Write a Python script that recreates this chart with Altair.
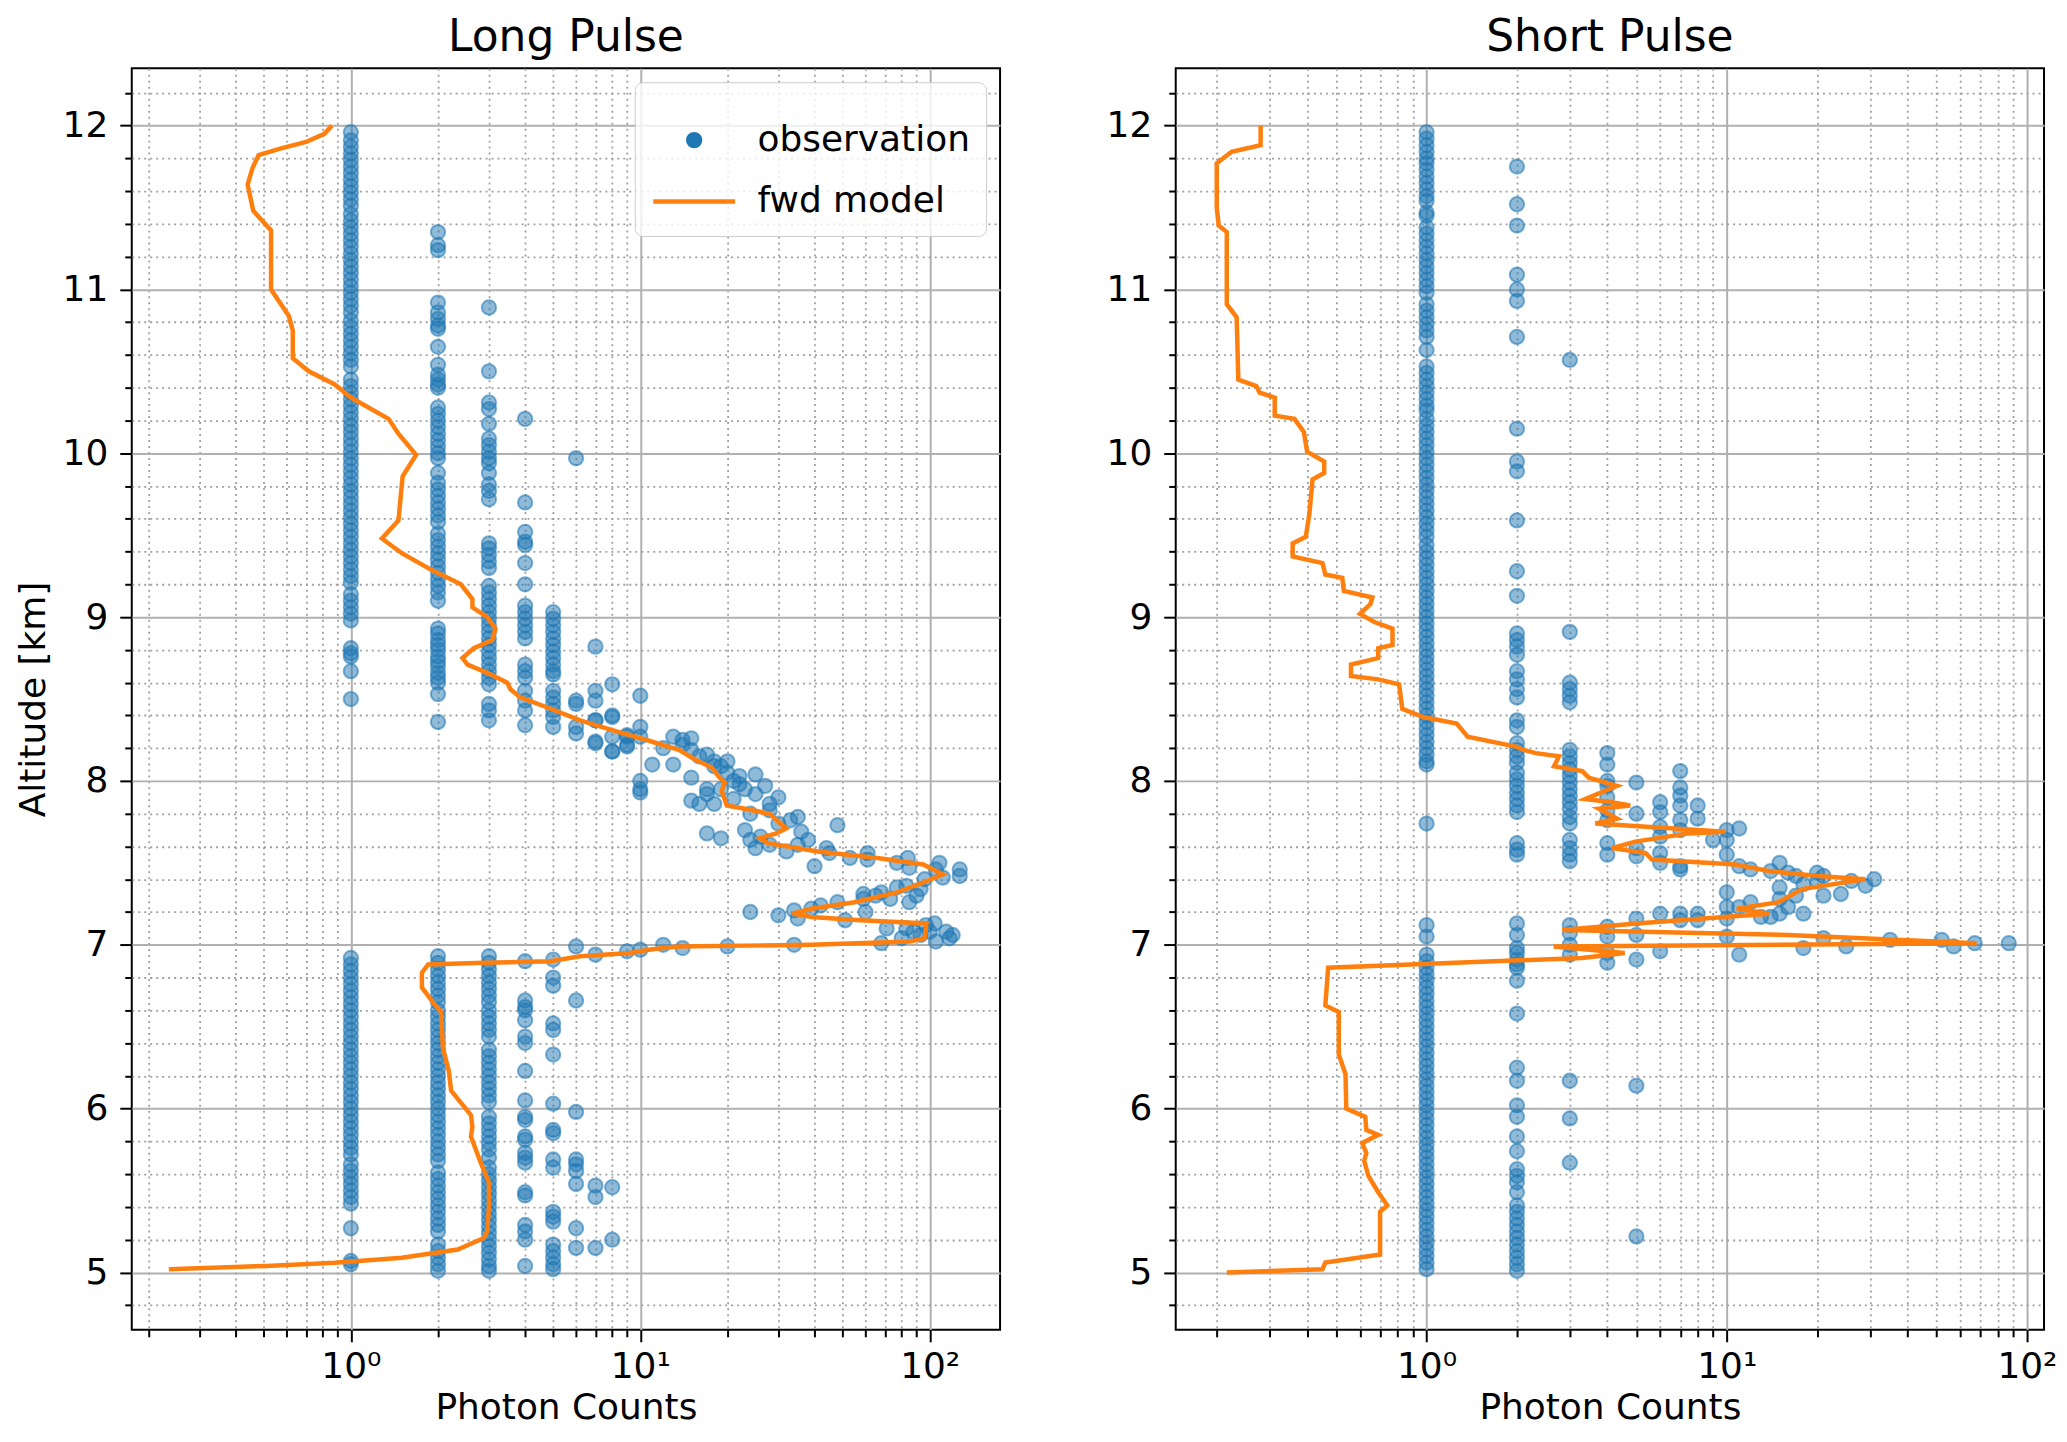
import altair as alt
import numpy as np
import pandas as pd

# ---------------------------------------------------------------------------
# Long pulse: observed photon counts (integer count -> altitudes in km)
# ---------------------------------------------------------------------------
long_n1 = [11.96, 11.91, 11.87, 11.83, 11.79, 11.75, 11.71, 11.67, 11.63, 11.59, 11.55, 11.51,
           11.46, 11.42, 11.38, 11.34, 11.30, 11.26, 11.22, 11.18, 11.14, 11.10, 11.06, 11.02,
           10.98, 10.94, 10.90, 10.86, 10.81, 10.77, 10.73, 10.69, 10.65, 10.61, 10.57, 10.53,
           10.45, 10.41, 10.37, 10.33, 10.29, 10.25, 10.21, 10.17, 10.13, 10.09, 10.05, 10.01,
           9.97, 9.93, 9.89, 9.85, 9.81, 9.77, 9.73, 9.69, 9.65, 9.61, 9.57, 9.53, 9.49, 9.45,
           9.41, 9.37, 9.33, 9.29, 9.25, 9.21, 9.14, 9.10, 9.06, 9.02, 8.98, 8.81, 8.78, 8.76,
           8.67, 8.50,
           6.92, 6.88, 6.84, 6.80, 6.76, 6.72, 6.68, 6.64, 6.60, 6.56, 6.52, 6.48, 6.44, 6.40,
           6.36, 6.32, 6.28, 6.24, 6.20, 6.16, 6.12, 6.08, 6.04, 6.00, 5.96, 5.92, 5.88, 5.84,
           5.80, 5.76, 5.72, 5.66, 5.62, 5.58, 5.54, 5.50, 5.46, 5.42, 5.27, 5.07, 5.05]
long_n2 = [11.35, 11.27, 11.24, 10.92, 10.86, 10.82, 10.78, 10.76, 10.65, 10.54, 10.48, 10.45,
           10.42, 10.40, 10.28, 10.24, 10.20, 10.16, 10.12, 10.08, 10.04, 10.00, 9.97, 9.88,
           9.82, 9.78, 9.74, 9.70, 9.66, 9.62, 9.58, 9.51, 9.47, 9.43, 9.39, 9.35, 9.31, 9.27,
           9.23, 9.19, 9.15, 9.10, 8.93, 8.90, 8.86, 8.83, 8.80, 8.76, 8.73, 8.70, 8.66, 8.63,
           8.60, 8.53, 8.36,
           6.93, 6.89, 6.85, 6.81, 6.77, 6.73, 6.69, 6.65, 6.60, 6.56, 6.52, 6.48, 6.44, 6.40,
           6.36, 6.32, 6.28, 6.24, 6.20, 6.16, 6.12, 6.08, 6.04, 6.00, 5.96, 5.92, 5.88, 5.84,
           5.80, 5.76, 5.72, 5.68, 5.61, 5.57, 5.53, 5.49, 5.45, 5.41, 5.37, 5.33, 5.29, 5.25,
           5.17, 5.13, 5.09, 5.05, 5.01]
long_n3 = [10.89, 10.50, 10.31, 10.27, 10.18, 10.09, 10.05, 10.01, 9.97, 9.94, 9.88, 9.81,
           9.77, 9.72, 9.45, 9.42, 9.38, 9.34, 9.30, 9.19, 9.15, 9.11, 9.07, 9.03, 8.99, 8.95,
           8.91, 8.87, 8.83, 8.79, 8.75, 8.71, 8.67, 8.63, 8.59, 8.47, 8.43, 8.37,
           6.93, 6.89, 6.85, 6.81, 6.77, 6.73, 6.69, 6.65, 6.60, 6.56, 6.52, 6.48, 6.44, 6.36,
           6.32, 6.28, 6.24, 6.20, 6.16, 6.12, 6.08, 6.04, 5.95, 5.91, 5.87, 5.83, 5.79, 5.75,
           5.70, 5.64, 5.60, 5.56, 5.52, 5.48, 5.44, 5.40, 5.36, 5.32, 5.28, 5.24, 5.20, 5.16,
           5.12, 5.08, 5.04, 5.01]
long_n4 = [10.21, 9.70, 9.52, 9.46, 9.44, 9.33, 9.20, 9.07, 9.03, 8.99, 8.95, 8.91, 8.87,
           8.71, 8.67, 8.63, 8.55, 8.49, 8.43, 8.34,
           6.90, 6.66, 6.62, 6.60, 6.54, 6.44, 6.40, 6.23, 6.05, 5.95, 5.93, 5.83, 5.81, 5.73,
           5.70, 5.67, 5.49, 5.47, 5.29, 5.25, 5.20, 5.04]
long_n5 = [9.03, 8.99, 8.95, 8.91, 8.87, 8.83, 8.79, 8.75, 8.71, 8.67, 8.65, 8.55, 8.51,
           8.47, 8.43, 8.39, 8.33,
           6.91, 6.80, 6.75, 6.52, 6.48, 6.33, 6.03, 5.87, 5.85, 5.69, 5.64, 5.37, 5.34, 5.31,
           5.17, 5.13, 5.09, 5.05, 5.02]
long_n6 = [9.97, 8.49, 8.47, 8.33, 8.29, 6.99, 6.66, 5.98, 5.69, 5.66, 5.62, 5.54, 5.27, 5.15]
long_n7 = [8.82, 8.55, 8.49, 8.37, 8.24, 6.94, 5.53, 5.46, 5.15]
long_n8 = [8.59, 8.40, 8.27, 8.18, 5.52, 5.20]
long_n9 = [8.27, 8.21, 6.96]
long_n10 = [8.52, 8.33, 8.27, 8.00, 7.95, 7.93, 6.97]

# higher counts around the cloud layer (count, altitude)
long_peak_counts = [7, 8, 7, 8, 9, 9, 11, 12, 13, 14, 15, 15, 17, 18, 19, 20, 22, 25, 15, 17,
                    15, 16, 18, 17, 19, 21, 23, 25, 27, 24, 28, 33, 35, 36, 23, 17, 19, 24, 26,
                    25, 28, 32, 35, 48, 44, 53, 61, 61, 77, 84, 85, 108, 105, 111, 127, 127, 96,
                    93, 83, 77, 68, 59, 59, 73, 85, 48, 42, 39, 34, 35, 51, 24, 71, 83, 88, 93,
                    80, 104, 114, 117, 105, 68, 34, 20, 14, 12, 13, 14, 16, 18, 20, 21, 22, 30,
                    28, 30, 38, 40, 45, 65, 90, 100, 97, 120, 30, 60]
long_peak_alts = [8.37, 8.39, 8.23, 8.18, 8.28, 8.22, 8.10, 8.20, 8.10, 8.22, 8.26, 8.19, 8.16,
                  8.12, 8.09, 8.05, 8.03, 8.04, 8.02, 7.95, 7.88, 7.86, 7.86, 7.92, 7.95, 7.89,
                  7.95, 7.92, 7.97, 7.80, 7.82, 7.76, 7.78, 7.69, 7.70, 7.68, 7.65, 7.64, 7.66,
                  7.59, 7.61, 7.57, 7.61, 7.73, 7.59, 7.53, 7.56, 7.52, 7.50, 7.53, 7.47, 7.50,
                  7.46, 7.41, 7.46, 7.42, 7.40, 7.34, 7.36, 7.35, 7.32, 7.31, 7.28, 7.28, 7.26,
                  7.26, 7.24, 7.22, 7.21, 7.16, 7.15, 7.20, 7.10, 7.10, 7.08, 7.06, 7.04, 7.13,
                  7.08, 7.04, 7.02, 7.01, 7.00, 6.99, 6.98, 7.00, 8.27, 8.25, 8.15, 8.09, 8.12,
                  8.00, 7.98, 7.90, 7.86, 7.74, 7.64, 7.48, 7.56, 7.30, 7.30, 7.08, 7.12, 7.06,
                  7.18, 7.20]

# Long pulse forward model (altitude km, photon counts)
long_fwd_alt = [5.02, 5.04, 5.06, 5.09, 5.14, 5.21, 5.25, 5.40, 5.55, 5.67, 5.83, 5.89, 5.96,
                6.11, 6.23, 6.37, 6.59, 6.65, 6.74, 6.83, 6.88, 6.89, 6.90, 6.93, 6.95, 6.97,
                6.98, 6.99, 7.00, 7.02, 7.04, 7.13, 7.15, 7.17, 7.19, 7.22, 7.26, 7.32, 7.38,
                7.43, 7.49, 7.53, 7.57, 7.62, 7.65, 7.68, 7.71, 7.80, 7.83, 7.85, 7.94, 7.99,
                8.03, 8.08, 8.13, 8.19, 8.25, 8.31, 8.37, 8.45, 8.51, 8.56, 8.60, 8.66, 8.71,
                8.75, 8.81, 8.86, 8.93, 9.00, 9.06, 9.11, 9.20, 9.29, 9.39, 9.48, 9.59, 9.86,
                9.99, 10.12, 10.21, 10.34, 10.42, 10.50, 10.58, 10.75, 10.84, 11.00, 11.36,
                11.48, 11.64, 11.74, 11.82, 11.86, 11.90, 11.95, 12.00]
long_fwd_count = [0.235, 0.51, 0.88, 1.50, 2.34, 2.88, 2.96, 3.0, 3.0, 2.81, 2.60, 2.63, 2.60,
                  2.22, 2.18, 2.08, 2.05, 1.92, 1.76, 1.76, 1.85, 2.88, 4.9, 6.2, 9.2, 10.7,
                  12.0, 13.6, 39, 85.6, 96, 97.5, 57.5, 39, 33.6, 39, 55, 77, 95, 111, 95, 66,
                  41, 27.6, 25.9, 29.5, 31.9, 28, 23, 19.9, 19.1, 19.6, 18.6, 17.7, 15.5, 13.6,
                  10.5, 8.0, 6.2, 4.75, 3.85, 3.56, 3.47, 2.96, 2.53, 2.43, 2.66, 3.08, 3.16,
                  2.96, 2.63, 2.63, 2.40, 1.89, 1.50, 1.28, 1.46, 1.51, 1.68, 1.46, 1.35, 1.0,
                  0.88, 0.716, 0.63, 0.63, 0.61, 0.53, 0.53, 0.46, 0.44, 0.457, 0.48, 0.57,
                  0.70, 0.81, 0.86]

# ---------------------------------------------------------------------------
# Short pulse: observed photon counts
# ---------------------------------------------------------------------------
short_n1 = [11.96, 11.92, 11.88, 11.84, 11.80, 11.77, 11.73, 11.69, 11.65, 11.61, 11.57, 11.54,
            11.47, 11.45, 11.38, 11.34, 11.30, 11.26, 11.22, 11.18, 11.14, 11.10, 11.06, 11.02,
            10.98, 10.91, 10.87, 10.83, 10.79, 10.75, 10.71, 10.63, 10.53, 10.49, 10.45, 10.41,
            10.37, 10.33, 10.29, 10.26, 10.21, 10.17, 10.13, 10.09, 10.05, 10.01, 9.97, 9.93,
            9.89, 9.85, 9.81, 9.77, 9.73, 9.69, 9.65, 9.61, 9.57, 9.53, 9.49, 9.44, 9.40, 9.36,
            9.32, 9.28, 9.24, 9.20, 9.16, 9.12, 9.08, 9.04, 9.00, 8.96, 8.92, 8.88, 8.84, 8.80,
            8.76, 8.72, 8.68, 8.64, 8.60, 8.56, 8.52, 8.48, 8.44, 8.40, 8.36, 8.32, 8.28, 8.24,
            8.20, 8.16, 8.12, 8.10, 7.74, 7.12, 7.05,
            6.94, 6.90, 6.86, 6.82, 6.78, 6.74, 6.70, 6.66, 6.62, 6.58, 6.54, 6.50, 6.46, 6.42,
            6.38, 6.34, 6.30, 6.26, 6.22, 6.18, 6.14, 6.10, 6.06, 6.02, 5.98, 5.94, 5.90, 5.86,
            5.82, 5.78, 5.74, 5.70, 5.66, 5.62, 5.58, 5.54, 5.50, 5.46, 5.42, 5.38, 5.34, 5.30,
            5.26, 5.22, 5.18, 5.14, 5.10, 5.06, 5.02]
short_n2 = [11.75, 11.52, 11.39, 11.09, 11.00, 10.93, 10.71, 10.15, 9.95, 9.89, 9.59, 9.28,
            9.13, 8.90, 8.86, 8.82, 8.77, 8.67, 8.62, 8.56, 8.51, 8.37, 8.33, 8.23, 8.19, 8.15,
            8.11, 8.05, 8.01, 7.97, 7.93, 7.89, 7.85, 7.81, 7.62, 7.58, 7.55, 7.13, 7.06, 6.98,
            6.95, 6.91, 6.88, 6.86, 6.78, 6.58, 6.25, 6.17, 6.02, 5.95, 5.83, 5.74, 5.63, 5.59,
            5.55, 5.49, 5.41, 5.37, 5.33, 5.29, 5.25, 5.21, 5.17, 5.13, 5.09, 5.05, 5.01]
short_n3 = [10.57, 8.91, 8.60, 8.56, 8.52, 8.48, 8.19, 8.15, 8.11, 8.07, 8.03, 7.99, 7.95,
            7.91, 7.87, 7.83, 7.78, 7.74, 7.64, 7.59, 7.55, 7.51, 7.12, 7.07, 7.00, 6.94, 6.17,
            5.94, 5.67]
short_n4 = [8.17, 8.10, 8.00, 7.97, 7.90, 7.82, 7.76, 7.62, 7.55, 7.11, 7.05, 6.95, 6.89]
short_n5 = [7.99, 7.80, 7.59, 7.54, 7.16, 7.06, 6.91, 6.14, 5.22]
short_n6 = [7.87, 7.81, 7.72, 7.66, 7.56, 7.50, 7.19, 6.96]
short_n7 = [8.06, 7.96, 7.91, 7.85, 7.76, 7.70, 7.48, 7.46, 7.19, 7.15]
short_n8 = [7.85, 7.77, 7.19, 7.15]
short_n9 = [7.64]
short_n10 = [7.70, 7.64, 7.55, 7.32, 7.23, 7.16, 7.05]

short_peak_counts = [11, 11, 11, 11, 12, 12, 13, 14, 14, 15, 15, 15, 15, 16, 16, 17, 17, 18,
                     18, 20, 20, 21, 21, 24, 26, 29, 31, 18, 21, 25, 35, 52, 57, 67, 87]
short_peak_alts = [7.71, 7.48, 7.23, 6.94, 7.46, 7.26, 7.17, 7.45, 7.17, 7.50, 7.35, 7.28, 7.19,
                   7.44, 7.23, 7.42, 7.30, 7.19, 7.37, 7.44, 7.39, 7.30, 7.42, 7.31, 7.39, 7.36,
                   7.40, 6.98, 7.04, 6.99, 7.03, 7.03, 6.99, 7.01, 7.01]

short_fwd_alt = [5.00, 5.02, 5.06, 5.11, 5.15, 5.37, 5.41, 5.49, 5.59, 5.68, 5.73, 5.79, 5.84,
                 5.87, 5.95, 6.00, 6.21, 6.33, 6.59, 6.63, 6.86, 6.92, 6.95, 6.99, 7.01, 7.06,
                 7.09, 7.13, 7.17, 7.19, 7.22, 7.26, 7.34, 7.40, 7.42, 7.45, 7.49, 7.52,
                 7.56, 7.59, 7.63, 7.68, 7.69, 7.74, 7.77, 7.83, 7.85, 7.87, 7.89, 7.97, 8.02,
                 8.06, 8.09, 8.15, 8.17, 8.19, 8.21, 8.27, 8.35, 8.39, 8.44, 8.59, 8.62, 8.64,
                 8.71, 8.75, 8.81, 8.83, 8.93, 8.97, 9.02, 9.08, 9.12, 9.16, 9.24, 9.26, 9.33,
                 9.37, 9.45, 9.49, 9.63, 9.84, 9.88, 9.95, 10.01, 10.13, 10.21, 10.23, 10.34,
                 10.37, 10.41, 10.45, 10.83, 10.91, 11.35, 11.39, 11.50, 11.77, 11.84, 11.88,
                 12.00]
short_fwd_count = [0.216, 0.45, 0.46, 0.70, 0.70, 0.70, 0.74, 0.69, 0.64, 0.62, 0.63, 0.61,
                   0.69, 0.63, 0.625, 0.54, 0.537, 0.51, 0.51, 0.46, 0.47, 3.29, 4.57, 2.65,
                   68, 16, 2.83, 5.0, 9.8, 13.9, 10.8, 14.9, 17.8, 28.9, 20.2, 13.8, 10.7, 5.63,
                   5.37, 4.14, 4.96, 7.46, 9.9, 3.65, 4.31, 3.75, 4.77, 4.14, 3.38, 4.31, 3.47,
                   3.3, 2.66, 2.76, 2.31, 2.1, 1.98, 1.37, 1.26, 0.975, 0.83, 0.81, 0.69, 0.56,
                   0.56, 0.69, 0.69, 0.77, 0.77, 0.67, 0.60, 0.65, 0.66, 0.53, 0.524, 0.46,
                   0.45, 0.358, 0.358, 0.396, 0.407, 0.417, 0.456, 0.456, 0.40, 0.39, 0.363,
                   0.312, 0.312, 0.278, 0.271, 0.236, 0.233, 0.216, 0.216, 0.203, 0.20, 0.20,
                   0.224, 0.28, 0.28]

# ---------------------------------------------------------------------------
# Axis ticks
# ---------------------------------------------------------------------------
x_ticks = [0.2, 0.3, 0.4, 0.5, 0.6, 0.7, 0.8, 0.9, 1, 2, 3, 4, 5, 6, 7, 8, 9,
           10, 20, 30, 40, 50, 60, 70, 80, 90, 100]
y_ticks = [round(v, 1) for v in np.arange(4.8, 12.25, 0.2)]

X_MAJOR = "abs(log(datum.value) / LN10 - round(log(datum.value) / LN10)) < 0.001"
Y_MAJOR = "abs(datum.value - round(datum.value)) < 0.001"

BLUE = '#1f77b4'
ORANGE = '#ff7f0e'
FONT = 'DejaVu Sans'
SERIES = ['observation', 'fwd model']
# symbol paths in the unit box; with size 6724 the box is 82 px wide
DOT_PATH = 'M-0.175,0A0.175,0.175,0,1,1,0.175,0A0.175,0.175,0,1,1,-0.175,0Z'
LINE_PATH = 'M-1,0L1,0'
SYMBOL_SIZE = 6724


def cond(test, major, minor):
    return {"condition": {"test": test, "value": major}, "value": minor}


def obs_frame(columns, peak_counts, peak_alts):
    rows = [(c, a) for c, alts in columns for a in alts]
    rows += list(zip(peak_counts, peak_alts))
    df = pd.DataFrame(rows, columns=['count', 'alt'])
    df['series'] = 'observation'
    return df


long_obs = obs_frame([(1, long_n1), (2, long_n2), (3, long_n3), (4, long_n4), (5, long_n5),
                      (6, long_n6), (7, long_n7), (8, long_n8), (9, long_n9), (10, long_n10)],
                     long_peak_counts, long_peak_alts)
short_obs = obs_frame([(1, short_n1), (2, short_n2), (3, short_n3), (4, short_n4),
                       (5, short_n5), (6, short_n6), (7, short_n7), (8, short_n8),
                       (9, short_n9), (10, short_n10)],
                      short_peak_counts, short_peak_alts)
long_fwd = pd.DataFrame({'count': long_fwd_count, 'alt': long_fwd_alt, 'series': 'fwd model'})
short_fwd = pd.DataFrame({'count': short_fwd_count, 'alt': short_fwd_alt, 'series': 'fwd model'})


def make_legend():
    return alt.Legend(
        title=None, orient='top-right', offset=14,
        labelFont=FONT, labelFontSize=36, labelColor='black', labelOffset=20,
        labelLimit=600, symbolSize=SYMBOL_SIZE, rowPadding=0, padding=16,
        fillColor='rgba(255,255,255,0.8)', strokeColor='#cccccc', cornerRadius=8,
    )


def panel(obs, fwd, title, x_domain, show_legend, y_title):
    x_axis = alt.Axis(
        values=x_ticks, title='Photon Counts',
        labelExpr=f"({X_MAJOR}) ? (datum.value < 0.5 ? '10⁻¹' : datum.value < 5 ? '10⁰' : "
                  f"datum.value < 50 ? '10¹' : '10²') : ''",
        gridDash=cond(X_MAJOR, [], [2, 4]),
        gridWidth=cond(X_MAJOR, 2, 1.8),
        gridColor=cond(X_MAJOR, '#b0b0b0', '#a0a0a0'),
        tickSize=cond(X_MAJOR, 12, 7),
        labelOverlap=False, labelBound=False, labelFlush=False,
        labelPadding=8, titlePadding=6,
    )
    y_axis = alt.Axis(
        values=y_ticks, title=y_title,
        labelExpr=f"({Y_MAJOR}) ? '' + round(datum.value) : ''",
        gridDash=cond(Y_MAJOR, [], [2, 4]),
        gridWidth=cond(Y_MAJOR, 2, 1.8),
        gridColor=cond(Y_MAJOR, '#b0b0b0', '#a0a0a0'),
        tickSize=cond(Y_MAJOR, 12, 7),
        labelOverlap=False, labelBound=False, labelFlush=False,
        labelPadding=12, titlePadding=10,
    )
    x_enc = alt.X('count:Q', axis=x_axis,
                  scale=alt.Scale(type='log', domain=x_domain, nice=False))
    y_enc = alt.Y('alt:Q', axis=y_axis,
                  scale=alt.Scale(domain=[4.65, 12.35], nice=False, zero=False))

    def leg():
        return make_legend() if show_legend else None

    color = alt.Color('series:N', scale=alt.Scale(domain=SERIES, range=[BLUE, ORANGE]),
                      legend=leg())
    stroke = alt.Stroke('series:N', scale=alt.Scale(domain=SERIES, range=[BLUE, ORANGE]),
                        legend=leg())
    shape = alt.Shape('series:N', scale=alt.Scale(domain=SERIES, range=[DOT_PATH, LINE_PATH]),
                      legend=leg())
    width = alt.StrokeWidth('series:N', scale=alt.Scale(domain=SERIES, range=[2.0, 4.5]),
                            legend=leg())

    points = alt.Chart(obs).mark_point(
        filled=True, size=SYMBOL_SIZE, opacity=1, fillOpacity=0.5, strokeOpacity=0.55
    ).encode(x=x_enc, y=y_enc, color=color, stroke=stroke, shape=shape, strokeWidth=width)

    line = alt.Chart(fwd).mark_line().encode(
        x=x_enc, y=y_enc, stroke=stroke, strokeWidth=width, order=alt.Order('alt:Q')
    )

    return alt.layer(points, line).properties(
        width=870, height=1264,
        title=alt.TitleParams(title, fontSize=44, font=FONT, fontWeight='normal',
                              color='black', offset=8)
    )


long_chart = panel(long_obs, long_fwd, 'Long Pulse', [0.175, 175], True, 'Altitude [km]')
short_chart = panel(short_obs, short_fwd, 'Short Pulse', [0.146, 114], False, None)

chart = alt.hconcat(long_chart, short_chart, spacing=104).resolve_scale(
    color='independent', stroke='independent', shape='independent', strokeWidth='independent'
).resolve_legend(
    color='independent', stroke='independent', shape='independent', strokeWidth='independent'
).properties(
    padding={'left': 6, 'top': 6, 'right': 0, 'bottom': 0}
).configure(
    font=FONT
).configure_view(
    stroke='black', strokeWidth=2
).configure_axis(
    domain=False,
    labelFont=FONT, labelFontSize=36, labelColor='black',
    titleFont=FONT, titleFontSize=36, titleFontWeight='normal', titleColor='black',
    tickColor='black', tickWidth=2,
)

chart.save("out.html", embed_options={"renderer": "svg", "actions": False})
